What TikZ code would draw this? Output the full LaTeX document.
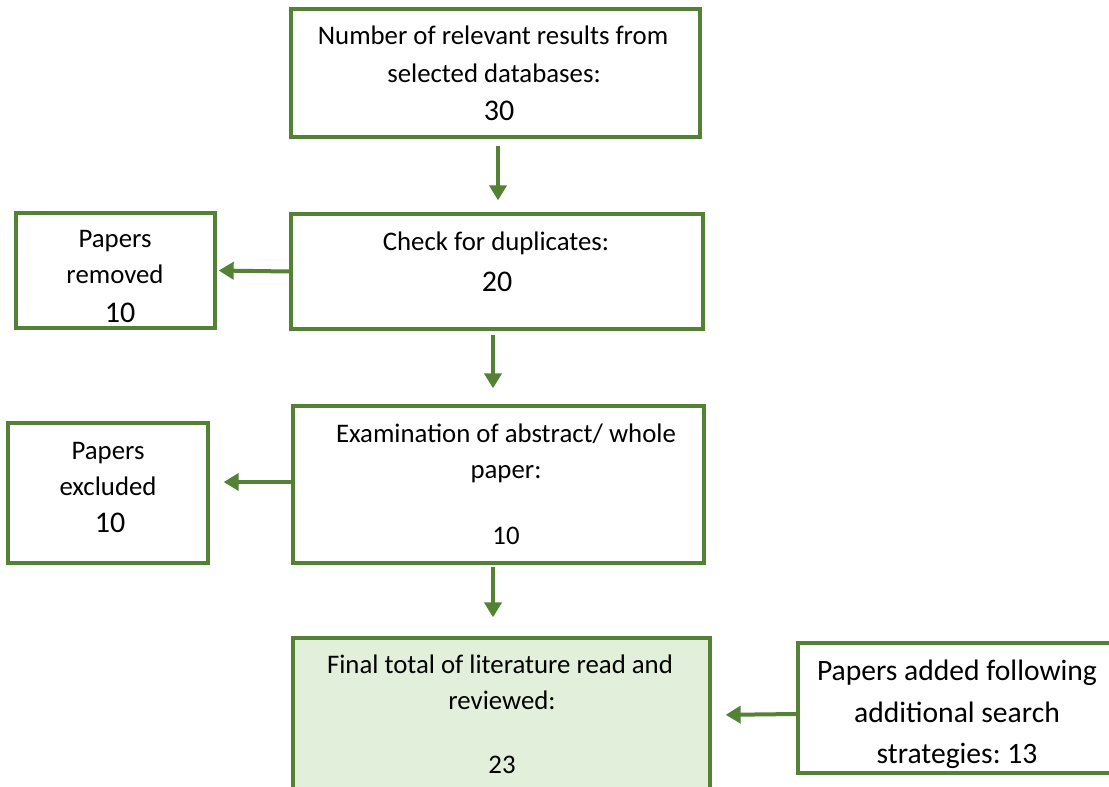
\documentclass[tikz,border=0pt]{standalone}
\usepackage{fontspec}
\setmainfont{Carlito}
\usetikzlibrary{arrows.meta}
\definecolor{flowgreen}{HTML}{548235}
\definecolor{paleleaf}{HTML}{E2EFDA}
\frenchspacing
\tikzset{
  box/.style={draw=flowgreen, line width=3.3pt, rectangle, inner sep=0pt},
  arr/.style={draw=flowgreen, line width=4pt, -{Triangle[width=17pt,length=15pt]}},
  txt/.style={anchor=base, inner sep=0pt, font=\fontsize{26.8}{31}\selectfont},
  big/.style={anchor=base, inner sep=0pt, font=\fontsize{30}{34}\selectfont},
  mid/.style={anchor=base, inner sep=0pt, font=\fontsize{29.6}{34}\selectfont}
}
\begin{document}
\begin{tikzpicture}[x=1pt,y=-1pt]
\useasboundingbox (0,0) rectangle (1109,787);

% boxes
\node[box, minimum width=409pt, minimum height=128pt] (top) at (495.5,73) {};
\node[box, minimum width=412pt, minimum height=115pt] (dup) at (497,271.5) {};
\node[box, minimum width=199pt, minimum height=115pt] (rem) at (115.5,270.5) {};
\node[box, minimum width=411pt, minimum height=157pt] (exam) at (498.5,484.5) {};
\node[box, minimum width=200pt, minimum height=140pt] (excl) at (108,493) {};
\node[box, fill=paleleaf, minimum width=417pt, minimum height=182pt] (final) at (501.5,729) {};
\node[box, minimum width=327pt, minimum height=130pt] (added) at (961.5,708) {};

% texts
\node[txt] (t1) at (493,45) {Number of relevant results from};
\node[txt] (t2) at (494,82) {selected databases:};
\node[big] (t3) at (499,120) {30};

\node[txt] (d1) at (496,250) {Check for duplicates:};
\node[big] (d2) at (497,291) {20};

\node[txt] (r1) at (115,247) {Papers};
\node[txt] (r2) at (115,283) {removed};
\node[big] (r3) at (120,322) {10};

\node[txt] (e1) at (506,442) {Examination of abstract/ whole};
\node[txt] (e2) at (506,478) {paper:};
\node[txt] (e3) at (506,544) {10};

\node[txt] (x1) at (108,459) {Papers};
\node[txt] (x2) at (108,495) {excluded};
\node[big] (x3) at (110,532) {10};

\node[txt] (f1) at (500,673) {Final total of literature read and};
\node[txt] (f2) at (502,709) {reviewed:};
\node[txt] (f3) at (502,773) {23};

\node[mid] (a1) at (957,680) {Papers added following};
\node[mid] (a2) at (957,722) {additional search};
\node[mid] (a3) at (957,763) {strategies: 13};

% connectors
\draw[arr, shorten <=7pt, shorten >=12pt] ([xshift=2.5pt]top.south) -- ([xshift=1pt]dup.north);
\draw[arr, shorten >=2pt] (dup.west) -- (rem.east);
\draw[arr, shorten <=4pt, shorten >=16pt] ([xshift=-4pt]dup.south) -- ([xshift=-5.5pt]exam.north);
\draw[arr, shorten >=14pt] ([yshift=2.5pt]exam.west) -- ([yshift=11pt]excl.east);
\draw[arr, shorten <=2pt, shorten >=19pt] ([xshift=-5.5pt]exam.south) -- ([xshift=-8.5pt]final.north);
\draw[arr, shorten >=14pt] ([yshift=-6pt]added.west) -- ([yshift=14pt]final.east);
\end{tikzpicture}
\end{document}
